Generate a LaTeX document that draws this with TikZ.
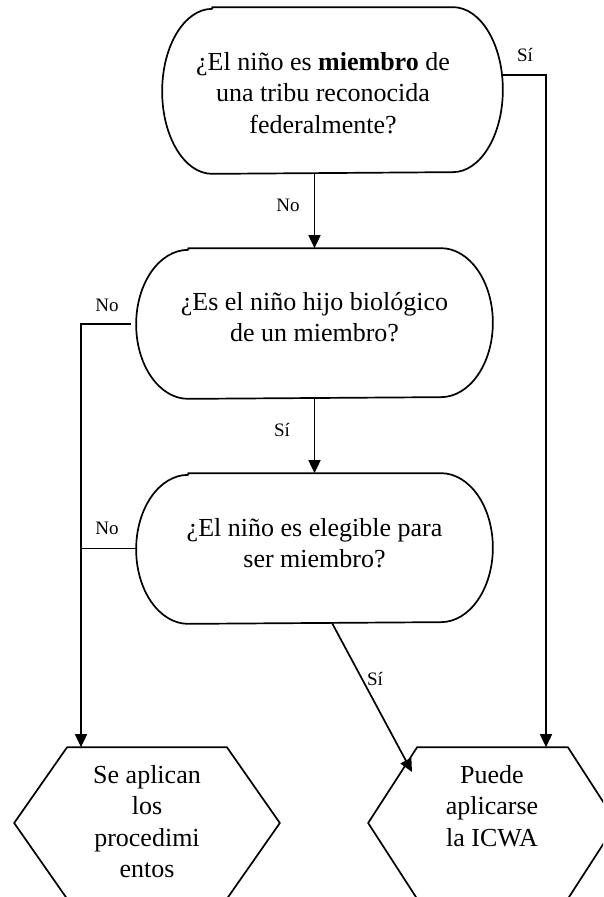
\documentclass[tikz,border=0pt]{standalone}
\usepackage{fontspec}
\setmainfont{Liberation Serif}
\usetikzlibrary{arrows.meta,calc}
\begin{document}
\begin{tikzpicture}[x=1pt,y=-1pt,
  line width=1.7pt,
  shapebox/.style={draw=none,inner sep=0pt},
  txt/.style={align=center,font=\fontsize{26}{31.5}\selectfont,inner sep=0pt},
  lbl/.style={font=\fontsize{19}{21}\selectfont,inner sep=0pt},
  arr/.style={-{Triangle[length=13pt,width=12pt]}},
  outline/.style={draw=black,line width=1.7pt,line join=round}
]
\useasboundingbox (0,0) rectangle (603,897);
\clip (0,0) rectangle (603,897);

% decision boxes (elliptical-ended)
\node[shapebox,minimum width=339pt,minimum height=165pt] (b1) at (332.5,90.5) {};
\draw[outline] ($(b1.north west)+(50,0)$) -- ($(b1.north east)+(-50,0)$)
  arc[start angle=90,end angle=-90,x radius=50pt,y radius=82.5pt]
  -- ($(b1.south west)+(50,0)$)
  arc[start angle=270,end angle=90,x radius=50pt,y radius=82.5pt] -- cycle;
\node[txt] (t1) at (323,93) {¿El niño es \textbf{miembro} de\\una tribu reconocida\\federalmente?};

\node[shapebox,minimum width=355pt,minimum height=149pt] (b2) at (314.5,323.5) {};
\draw[outline] ($(b2.north west)+(52,0)$) -- ($(b2.north east)+(-52,0)$)
  arc[start angle=90,end angle=-90,x radius=52pt,y radius=74.5pt]
  -- ($(b2.south west)+(52,0)$)
  arc[start angle=270,end angle=90,x radius=52pt,y radius=74.5pt] -- cycle;
\node[txt] (t2) at (314.5,317) {¿Es el niño hijo biológico\\de un miembro?};

\node[shapebox,minimum width=355pt,minimum height=149pt] (b3) at (314.5,548.5) {};
\draw[outline] ($(b3.north west)+(52,0)$) -- ($(b3.north east)+(-52,0)$)
  arc[start angle=90,end angle=-90,x radius=52pt,y radius=74.5pt]
  -- ($(b3.south west)+(52,0)$)
  arc[start angle=270,end angle=90,x radius=52pt,y radius=74.5pt] -- cycle;
\node[txt] (t3) at (314.5,543) {¿El niño es elegible para\\ser miembro?};

% result hexagons
\node[shapebox,minimum width=264pt,minimum height=150pt] (h1) at (147,823) {};
\draw[outline] ($(h1.north west)+(53,0)$) -- ($(h1.north east)+(-53,0)$) -- (h1.east)
  -- ($(h1.south east)+(-53,0)$) -- ($(h1.south west)+(53,0)$) -- (h1.west) -- cycle;
\node[txt] (t4) at (147,821.5) {Se aplican\\los\\procedimi\\entos};

\node[shapebox,minimum width=247pt,minimum height=150pt] (h2) at (492.5,823) {};
\draw[outline] ($(h2.north west)+(49,0)$) -- ($(h2.north east)+(-49,0)$) -- (h2.east)
  -- ($(h2.south east)+(-49,0)$) -- ($(h2.south west)+(49,0)$) -- (h2.west) -- cycle;
\node[txt] (t5) at (492,806) {Puede\\aplicarse\\la ICWA};

% connector points
\coordinate (b1yes) at (501,75);
\coordinate (k1) at (546,75);
\coordinate (b2no) at (131,324);
\coordinate (k2) at (81,324);
\coordinate (b3yes) at (332,623);
\coordinate (h2hit) at (412,772);

% connectors
\draw[arr] (b2.north |- b1.south) -- (b2.north);
\draw[arr] (b2.south) -- (b3.north);
\draw[arr] (b1yes) -- (k1) -- (k1 |- h2.north);
\draw[arr] (b2no) -- (k2) -- (k2 |- h1.north);
\draw (b3.west) -- (b3.west -| k2);
\draw[arr] (b3yes) -- (h2hit);

% labels
\node[lbl] (l1) at (288,205) {No};
\node[lbl] (l2) at (282,430) {Sí};
\node[lbl] (l3) at (525,55) {Sí};
\node[lbl] (l4) at (107,305) {No};
\node[lbl] (l5) at (107,528) {No};
\node[lbl] (l6) at (375,679) {Sí};
\end{tikzpicture}
\end{document}
